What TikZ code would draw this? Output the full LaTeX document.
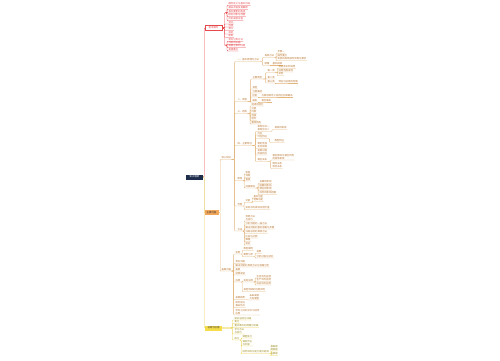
\documentclass[tikz,border=0pt]{standalone}
\usepackage{fontspec}
\newfontfamily\cjk{Noto Sans CJK SC}
\definecolor{navy}{HTML}{1F2D4D}
\definecolor{mmred}{HTML}{E5484D}
\definecolor{mmorange}{HTML}{F2A65A}
\definecolor{mmtan}{HTML}{E3B77E}
\definecolor{mmbrown}{HTML}{B8742F}
\definecolor{mmyellow}{HTML}{F5DC4A}
\definecolor{mmyline}{HTML}{E8D34F}
\definecolor{mmolive}{HTML}{9A8A20}
\begin{document}
\begin{tikzpicture}[x=1pt,y=-1pt,
    every node/.style={font=\cjk\fontsize{2.4}{2.9}\selectfont},
    rootbox/.style={fill=navy,text=white,minimum width=17pt,minimum height=5pt,inner sep=0.5pt},
    mainbox/.style={minimum width=17pt,minimum height=5pt,inner sep=0.5pt,line width=0.4pt},
    rleaf/.style={anchor=south west,inner sep=0.3pt,text=mmred},
    oleaf/.style={anchor=south west,inner sep=0.3pt,text=mmbrown,align=left},
    yleaf/.style={anchor=south west,inner sep=0.3pt,text=mmolive,align=left},
    rline/.style={draw=mmred,line width=0.35pt,rounded corners=0.8pt},
    oline/.style={draw=mmtan,line width=0.35pt,rounded corners=0.8pt},
    yline/.style={draw=mmyline,line width=0.35pt,rounded corners=0.8pt}]
  \useasboundingbox (0,0) rectangle (500,360);

  % root and the three branches
  \node[rootbox] (root) at (194.5,177) {知识框架};
  \node[mainbox,draw=mmred,fill=white,text=mmred] (basic) at (213.5,28) {基本概念};
  \node[mainbox,fill=mmorange,text=black!80,minimum width=14pt] (main) at (211.5,212.5) {主要内容};
  \node[mainbox,fill=mmyellow,text=black!80] (sum) at (213.5,328) {总结与应用};
  \draw[rline] (root.east) -- ++(1,0) |- (basic.west);
  \draw[oline] (root.east) -- ++(1,0) |- (main.west);
  \draw[yline] (root.east) -- ++(1,0) |- (sum.west);

  % red branch
  \coordinate (ga) at (226,13);
  \coordinate (gb) at (226,45.5);
  \node[rleaf] (r1) at (228,5.5) {概念定义与基本内涵};
  \node[rleaf] (r2) at (228,9.5) {相关术语及其解释};
  \node[rleaf] (r3) at (228,13) {基本要素的构成};
  \node[rleaf] (r4) at (228,16.5) {研究对象与范围};
  \node[rleaf] (r5) at (228,20.5) {历史发展过程};
  \node[rleaf] (r6) at (228,24) {特点};
  \node[rleaf] (r7) at (228,27) {性质};
  \node[rleaf] (r8) at (228,30.5) {意义};
  \node[rleaf] (r9) at (228,34) {目的};
  \node[rleaf] (r10) at (228,37.5) {原则};
  \node[rleaf] (r11) at (228,41.5) {常见分类方法};
  \node[rleaf] (r12) at (228,44.5) {判断的依据};
  \node[rleaf] (r13) at (228,47.5) {需要注意的问题};
  \node[rleaf] (r14) at (228,51) {易错要点};
  \foreach \n in {ga,r6,r7,r8,r9,r10,gb}
    \draw[rline] (basic.east) -- ++(2,0) |- (\n.south west) -- (\n.south east);
  \foreach \n in {r1,r2,r3,r4,r5}
    \draw[rline] (ga) -- ++(1,0) |- (\n.south west) -- (\n.south east);
  \foreach \n in {r11,r12,r13,r14}
    \draw[rline] (gb) -- ++(1,0) |- (\n.south west) -- (\n.south east);

  % orange branch
  \node[oleaf] (core) at (221,159.5) {核心知识};
  \node[oleaf] (ext) at (221,271) {拓展内容};
  \foreach \n in {core,ext}
    \draw[oline] (main.east) -- ++(1.5,0) |- (\n.south west) -- (\n.south east);

  \node[oleaf] (c1) at (237,61.5) {一、基本原理与方法};
  \node[oleaf] (c2) at (237,101.5) {二、类型};
  \node[oleaf] (c3) at (237,113.5) {三、结构};
  \node[oleaf] (c4) at (237,145.5) {四、主要特征};
  \node[oleaf] (c5) at (237,180.5) {影响};
  \node[oleaf] (c6) at (237,206) {作用};
  \node[oleaf] (c7) at (237,231) {方法};
  \foreach \n in {c1,c2,c3,c4,c5,c6,c7}
    \draw[oline] (core.south east) -- ++(3,0) |- (\n.south west) -- (\n.south east);

  \node[oleaf] (d11) at (264,57.5) {具体方法};
  \node[oleaf] (d12) at (264,65.5) {原理};
  \foreach \n in {d11,d12}
    \draw[oline] (c1.south east) -- ++(3,0) |- (\n.south west) -- (\n.south east);
  \node[oleaf] (e111) at (277,53.5) {步骤一};
  \node[oleaf] (e112) at (277,57) {操作要点};
  \node[oleaf] (e113) at (277,60.5) {实验的具体操作步骤与要求};
  \foreach \n in {e111,e112,e113}
    \draw[oline] (d11.south east) -- ++(1.5,0) |- (\n.south west) -- (\n.south east);
  \node[oleaf] (e121) at (272,65.5) {基本规律};
  \draw[oline] (d12.south east) -- (e121.south west) -- (e121.south east);

  \node[oleaf] (d21) at (252,79) {主要类型};
  \node[oleaf] (d22) at (252,89) {其他};
  \node[oleaf] (d23) at (252,93) {注意事项};
  \node[oleaf] (d24) at (252,97) {区别};
  \node[oleaf] (d25) at (252,102) {联系};
  \foreach \n in {d21,d22,d23,d24,d25}
    \draw[oline] (c2.south east) -- ++(3,0) |- (\n.south west) -- (\n.south east);
  \node[oleaf] (e211) at (267,72.5) {第一类};
  \node[oleaf] (e212) at (267,79) {第二类};
  \node[oleaf] (e213) at (267,83) {第三类};
  \foreach \n in {e211,e212,e213}
    \draw[oline] (d21.south east) -- ++(3,0) |- (\n.south west) -- (\n.south east);
  \node[oleaf] (f1) at (278,68.5) {特征及实例说明};
  \node[oleaf] (f2) at (278,72) {适用范围说明};
  \node[oleaf] (f3) at (278,75.5) {举例};
  \foreach \n in {f1,f2,f3}
    \draw[oline] (e211.south east) -- ++(2,0) |- (\n.south west) -- (\n.south east);
  \node[oleaf] (f4) at (278,83) {特征与适用的范围};
  \draw[oline] (e213.south east) -- (f4.south west) -- (f4.south east);
  \node[oleaf] (f5) at (261,97) {与相近概念之间的区别和联系};
  \draw[oline] (d24.south east) -- (f5.south west) -- (f5.south east);
  \node[oleaf] (f6) at (261,102) {相互联系};
  \draw[oline] (d25.south east) -- (f6.south west) -- (f6.south east);

  \node[oleaf] (s1) at (251,106) {组成的部分};
  \node[oleaf] (s2) at (251,110) {外部};
  \node[oleaf] (s3) at (251,113.5) {内部};
  \node[oleaf] (s4) at (251,117) {连接};
  \node[oleaf] (s5) at (251,120.5) {层次};
  \node[oleaf] (s6) at (251,124) {整体结构};
  \foreach \n in {s1,s2,s3,s4,s5,s6}
    \draw[oline] (c3.south east) -- ++(2.5,0) |- (\n.south west) -- (\n.south east);

  \node[oleaf] (t1) at (257,131.5) {表现形式一\\表现形式二};
  \node[oleaf] (t2) at (257,135) {内在};
  \node[oleaf] (t3) at (257,138.5) {外在特征};
  \node[oleaf] (t4) at (257,148.5) {稳定性强\\变化规律};
  \node[oleaf] (t5) at (257,155) {发展过程\\阶段特点};
  \node[oleaf] (t6) at (257,161.5) {相互关系};
  \foreach \n in {t1,t2,t3,t4,t5,t6}
    \draw[oline] (c4.south east) -- ++(3,0) |- (\n.south west) -- (\n.south east);
  \node[oleaf] (u1) at (274,129.5) {具体的表现};
  \draw[oline] (t1.south east) -- ++(2,0) |- (u1.south west) -- (u1.south east);
  \node[oleaf] (u2) at (274,142.5) {典型特征};
  \draw[oline] (t3.south east) -- ++(2,0) |- (u2.south west) -- (u2.south east);
  \node[oleaf] (u3) at (272,160) {相互影响与相互作用\\的具体表现};
  \node[oleaf] (u4) at (272,168.5) {制约关系\\依存关系};
  \foreach \n in {u3,u4}
    \draw[oline] (t6.south east) -- ++(3,0) |- (\n.south west) -- (\n.south east);

  \node[oleaf] (v1) at (245,174) {积极};
  \node[oleaf] (v2) at (245,177.5) {消极};
  \node[oleaf] (v3) at (245,181) {直接};
  \node[oleaf] (v4) at (245,188) {间接影响};
  \foreach \n in {v1,v2,v3,v4}
    \draw[oline] (c5.south east) -- ++(1.5,0) |- (\n.south west) -- (\n.south east);
  \node[oleaf] (w1) at (259,183.5) {长期的影响};
  \node[oleaf] (w2) at (259,187) {短期的影响};
  \node[oleaf] (w3) at (259,190.5) {潜在的影响};
  \node[oleaf] (w4) at (259,194.5) {综合的影响因素};
  \foreach \n in {w1,w2,w3,w4}
    \draw[oline] (v4.south east) -- ++(2.5,0) |- (\n.south west) -- (\n.south east);

  \node[oleaf] (v5) at (245,202.5) {功能};
  \node[oleaf] (v6) at (245,209.5) {实际中的具体应用价值};
  \foreach \n in {v5,v6}
    \draw[oline] (c6.south east) -- ++(1.5,0) |- (\n.south west) -- (\n.south east);
  \node[oleaf] (w5) at (253,198) {基本功能};
  \node[oleaf] (w6) at (253,201.5) {特殊功能};
  \foreach \n in {w5,w6}
    \draw[oline] (v5.south east) -- ++(1.5,0) |- (\n.south west) -- (\n.south east);

  \node[oleaf] (m1) at (245,221) {常用方法\\与技巧};
  \node[oleaf] (m2) at (245,225) {分析问题的一般方法};
  \node[oleaf] (m3) at (245,229) {解决问题的基本思路与步骤};
  \node[oleaf] (m4) at (245,233.5) {归纳总结的具体方法};
  \node[oleaf] (m5) at (245,238) {比较与对照};
  \node[oleaf] (m6) at (245,241.5) {推理};
  \node[oleaf] (m7) at (245,245) {验证};
  \foreach \n in {m1,m2,m3,m4,m5,m6,m7}
    \draw[oline] (c7.south east) -- ++(1.5,0) |- (\n.south west) -- (\n.south east);

  \node[oleaf] (g1) at (235,254) {实例};
  \node[oleaf] (g2) at (235,263.5) {常见问题};
  \node[oleaf] (g3) at (235,267) {解决问题的具体方法与思路分析};
  \node[oleaf] (g4) at (235,271) {拓展};
  \node[oleaf] (g5) at (235,275) {延伸阅读};
  \node[oleaf] (g6) at (235,282) {应用};
  \node[oleaf] (g7) at (235,299.5) {发展趋势};
  \node[oleaf] (g8) at (235,307.5) {研究前沿\\相关热点};
  \node[oleaf] (g9) at (235,315) {学科之间的交叉与综合\\应用};
  \foreach \n in {g1,g2,g3,g4,g5,g6,g7,g8,g9}
    \draw[oline] (ext.south east) -- ++(2,0) |- (\n.south west) -- (\n.south east);
  \node[oleaf] (h1) at (243,250.5) {典型案例};
  \node[oleaf] (h2) at (243,256.5) {案例分析};
  \foreach \n in {h1,h2}
    \draw[oline] (g1.south east) -- ++(1.5,0) |- (\n.south west) -- (\n.south east);
  \node[oleaf] (k1) at (256,253.5) {背景};
  \node[oleaf] (k2) at (256,258) {分析过程与结论};
  \foreach \n in {k1,k2}
    \draw[oline] (h2.south east) -- ++(1.5,0) |- (\n.south west) -- (\n.south east);
  \node[oleaf] (h6) at (243,282) {实际应用};
  \node[oleaf] (h7) at (243,291.5) {其他领域的应用实例};
  \foreach \n in {h6,h7}
    \draw[oline] (g6.south east) -- ++(1.5,0) |- (\n.south west) -- (\n.south east);
  \node[oleaf] (k3) at (256,278) {生活中的应用};
  \node[oleaf] (k4) at (256,281.5) {生产中的应用};
  \node[oleaf] (k5) at (256,285) {科技中的应用};
  \foreach \n in {k3,k4,k5}
    \draw[oline] (h6.south east) -- ++(1.5,0) |- (\n.south west) -- (\n.south east);
  \node[oleaf] (k6) at (249,300) {未来发展\\方向展望};
  \draw[oline] (g7.south east) -- (k6.south west) -- (k6.south east);

  % yellow branch
  \node[yleaf] (y1) at (234,320) {知识总结与归纳};
  \node[yleaf] (y2) at (234,323.5) {复习};
  \node[yleaf] (y3) at (234,327.5) {重点难点的梳理与突破};
  \node[yleaf] (y4) at (234,334) {学习方法\\与技巧};
  \node[yleaf] (y5) at (234,340) {练习};
  \foreach \n in {y1,y2,y3,y4,y5}
    \draw[yline] (sum.east) -- ++(10,0) |- (\n.south west) -- (\n.south east);
  \node[yleaf] (z1) at (242,338) {课堂练习};
  \node[yleaf] (z2) at (242,346) {课后作业\\与巩固};
  \node[yleaf] (z3) at (242,353.5) {综合训练与能力提升题目};
  \foreach \n in {z1,z2,z3}
    \draw[yline] (y5.south east) -- ++(1.5,0) |- (\n.south west) -- (\n.south east);
  \node[yleaf] (z4) at (270,351) {基础题\\提高题};
  \node[yleaf] (z5) at (270,355.5) {拓展题};
  \foreach \n in {z4,z5}
    \draw[yline] (z3.south east) -- ++(2,0) |- (\n.south west) -- (\n.south east);
\end{tikzpicture}
\end{document}
